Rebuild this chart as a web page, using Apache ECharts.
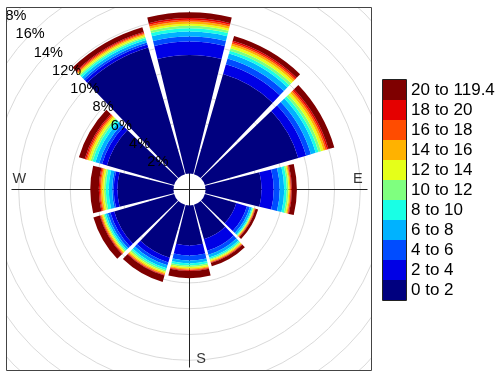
<!DOCTYPE html>
<html>
<head>
<meta charset="utf-8">
<script src="https://cdn.jsdelivr.net/npm/echarts@6/dist/echarts.min.js"></script>
<style>
  html, body { margin: 0; padding: 0; background: #fff; }
  #chart { width: 502px; height: 373px; }
</style>
</head>
<body>
<div id="chart"></div>
<script>
// wind directions (sector centres, degrees)
const directions = ['30', '60', '90', '120', '150', '180', '210', '240', '270', '300', '330', '360'];

const binLabels = ['0 to 2', '2 to 4', '4 to 6', '6 to 8', '8 to 10', '10 to 12',
  '12 to 14', '14 to 16', '16 to 18', '18 to 20', '20 to 119.4'];
const binColors = ['#00007F', '#0000E5', '#004CFF', '#00B2FF', '#19FFE5', '#7FFF7F',
  '#E5FF19', '#FFB200', '#FF4C00', '#E50000', '#7F0000'];

// frequency (%) per direction for each concentration bin
const freq0to2 = [8.09, 7.54, 4.34, 2.54, 2.77, 3.09, 4.26, 4.84, 4.34, 5.43, 10.23, 9.18];
const freq2to4 = [0.78, 0.63, 0.94, 0.86, 0.94, 0.78, 0.39, 0.31, 0.29, 0.39, 0.23, 1.04];
const freq4to6 = [0.47, 0.39, 0.47, 0.23, 0.31, 0.39, 0.23, 0.20, 0.12, 0.23, 0.16, 0.39];
const freq6to8 = [0.39, 0.39, 0.35, 0.16, 0.23, 0.23, 0.23, 0.16, 0.27, 0.31, 0.20, 0.39];
const freq8to10 = [0.23, 0.23, 0.20, 0.08, 0.12, 0.16, 0.16, 0.12, 0.23, 0.23, 0.16, 0.26];
const freq10to12 = [0.20, 0.20, 0.12, 0.06, 0.08, 0.12, 0.12, 0.09, 0.13, 0.16, 0.12, 0.18];
const freq12to14 = [0.20, 0.20, 0.08, 0.05, 0.08, 0.12, 0.12, 0.09, 0.13, 0.16, 0.12, 0.16];
const freq14to16 = [0.16, 0.16, 0.08, 0.05, 0.08, 0.08, 0.09, 0.08, 0.12, 0.12, 0.09, 0.18];
const freq16to18 = [0.12, 0.12, 0.05, 0.04, 0.04, 0.05, 0.06, 0.06, 0.08, 0.09, 0.08, 0.13];
const freq18to20 = [0.12, 0.12, 0.06, 0.03, 0.04, 0.06, 0.05, 0.06, 0.08, 0.10, 0.08, 0.13];
const freq20plus = [0.39, 0.47, 0.39, 0.20, 0.27, 0.55, 0.51, 0.51, 0.66, 0.47, 0.39, 0.45];

const binData = [freq0to2, freq2to4, freq4to6, freq6to8, freq8to10, freq10to12,
  freq12to14, freq14to16, freq16to18, freq18to20, freq20plus];

// percentage rings
const ringMax = 18;
const ringStep = 2;

// compass labels shown (N is hidden under the bars)
const compassNames = ['E', 'S', 'W'];
const compassDirs = ['90', '180', '270'];
const compassRadius = 11.8;

const center = [189.5, 189.5];
const hole = 16;
const outer = hole + ringMax * 12.9;
const font = 'Liberation Sans, Arial, sans-serif';

const chart = echarts.init(document.getElementById('chart'), null, { renderer: 'canvas' });

const hiddenAngle = {
  axisLine: { show: false }, axisTick: { show: false },
  axisLabel: { show: false }, splitLine: { show: false }
};

const ringColors = [];
for (let v = 0; v <= ringMax; v += ringStep) ringColors.push(v === 0 ? 'rgba(0,0,0,0)' : '#dadada');

const labelOffsets = { E: [0, -11], S: [11.5, 1], W: [-2, -11] };

const series = binLabels.map((name, i) => ({
  name: name,
  type: 'bar',
  coordinateSystem: 'polar',
  polarIndex: 0,
  stack: 'rose',
  barCategoryGap: '8%',
  itemStyle: { color: binColors[i] },
  emphasis: { disabled: true },
  data: binData[i].map((v, k) => [v, directions[k]])
}));

series.push({
  type: 'scatter',
  coordinateSystem: 'polar',
  polarIndex: 0,
  symbolSize: 0,
  silent: true,
  z: 5,
  data: compassNames.map((n, k) => ({
    name: n,
    value: [compassRadius, compassDirs[k]],
    label: { offset: labelOffsets[n] }
  })),
  label: {
    show: true, position: 'inside', formatter: '{b}',
    color: '#000', fontSize: 14.5, fontFamily: font
  }
});

const option = {
  backgroundColor: '#fff',
  animation: false,
  polar: [
    { center: center, radius: [hole, outer] },
    { center: center, radius: [0, 178] },
    { center: center, radius: [hole, outer] }
  ],
  angleAxis: [
    Object.assign({ polarIndex: 0, type: 'category', data: directions, startAngle: 75, clockwise: true }, hiddenAngle),
    {
      polarIndex: 1, type: 'category', data: ['a', 'b', 'c', 'd'], startAngle: 0,
      axisLine: { show: false }, axisTick: { show: false }, axisLabel: { show: false },
      splitLine: { show: true, lineStyle: { color: '#222', width: 1 } }
    },
    Object.assign({ polarIndex: 2, type: 'value', min: 0, max: 360, startAngle: 135 }, hiddenAngle)
  ],
  radiusAxis: [
    {
      polarIndex: 0, type: 'value', min: 0, max: ringMax, interval: ringStep,
      axisLine: { show: false }, axisTick: { show: false }, axisLabel: { show: false },
      splitLine: { show: true, lineStyle: { color: ringColors, width: 1 } }
    },
    { polarIndex: 1, type: 'value', min: 0, max: 1, show: false },
    {
      polarIndex: 2, type: 'value', min: 0, max: ringMax, interval: ringStep, z: 10,
      axisLine: { show: false }, axisTick: { show: false }, splitLine: { show: false },
      axisLabel: {
        show: true, showMinLabel: false, margin: 3, rotate: 0,
        align: 'center', verticalAlign: 'middle',
        formatter: '{value}%', color: '#000', fontSize: 14.5, fontFamily: font
      }
    }
  ],
  legend: {
    orient: 'vertical', left: 383, top: 80, z: 100, padding: 0,
    itemWidth: 23, itemHeight: 20, itemGap: 0,
    icon: 'rect', selectedMode: false,
    data: binLabels.slice().reverse(),
    textStyle: { color: '#000', fontSize: 17, lineHeight: 20, fontFamily: font }
  },
  graphic: [
    { type: 'rect', z: 50, silent: true, shape: { x: 0, y: 0, width: 502, height: 7.5 }, style: { fill: '#fff' } },
    { type: 'rect', z: 50, silent: true, shape: { x: 0, y: 0, width: 6.5, height: 373 }, style: { fill: '#fff' } },
    { type: 'rect', z: 50, silent: true, shape: { x: 371.5, y: 0, width: 131, height: 373 }, style: { fill: '#fff' } },
    { type: 'rect', z: 50, silent: true, shape: { x: 0, y: 370.5, width: 502, height: 3 }, style: { fill: '#fff' } },
    { type: 'rect', z: 60, silent: true, shape: { x: 6.5, y: 7.5, width: 365, height: 363 }, style: { fill: null, stroke: '#444', lineWidth: 1 } },
    { type: 'rect', z: 120, silent: true, shape: { x: 382.5, y: 79.5, width: 24, height: 221 }, style: { fill: null, stroke: '#222', lineWidth: 1 } }
  ],
  series: series
};

chart.setOption(option);
</script>
</body>
</html>
